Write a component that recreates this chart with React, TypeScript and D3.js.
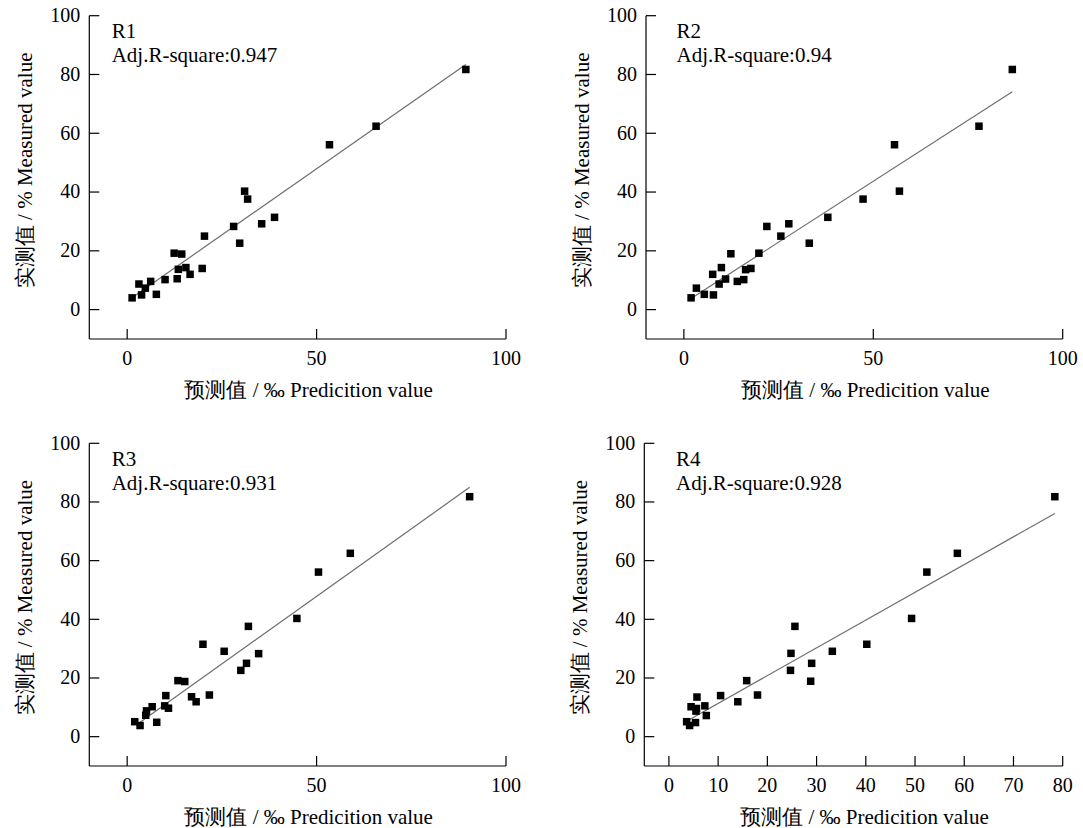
import React from 'react';
import * as d3 from 'd3';

// predicted (x) vs measured (y) for the four models
const pred1 = [1.3, 3.1, 3.8, 4.8, 6.2, 7.7, 10.0, 12.4, 13.2, 13.5, 14.4, 15.5, 16.6, 19.8, 20.4, 28.1, 29.7, 31.0, 31.8, 35.5, 38.9, 53.4, 65.7, 89.4];
const meas1 = [4.0, 8.7, 5.0, 7.3, 9.6, 5.2, 10.2, 19.2, 10.5, 13.7, 18.9, 14.3, 12.0, 14.0, 25.0, 28.3, 22.6, 40.3, 37.6, 29.2, 31.4, 56.1, 62.4, 81.7];

const pred2 = [1.9, 3.3, 5.4, 7.6, 7.8, 9.3, 9.9, 11.0, 12.4, 14.1, 15.8, 16.3, 17.7, 19.8, 21.9, 25.6, 27.7, 33.1, 38.0, 47.3, 55.6, 56.9, 77.9, 86.7];
const meas2 = [4.0, 7.3, 5.2, 12.0, 5.0, 8.7, 14.3, 10.4, 19.0, 9.6, 10.2, 13.6, 14.0, 19.2, 28.3, 25.0, 29.2, 22.6, 31.4, 37.6, 56.1, 40.3, 62.4, 81.7];

const pred3 = [2.0, 3.4, 4.9, 5.1, 6.6, 7.8, 9.9, 10.2, 10.9, 13.4, 15.2, 17.0, 18.2, 20.0, 21.7, 25.6, 30.0, 31.5, 32.0, 34.7, 44.8, 50.5, 58.9, 90.4];
const meas3 = [5.1, 3.8, 7.3, 8.8, 10.2, 4.9, 10.5, 14.0, 9.7, 19.1, 18.8, 13.6, 11.9, 31.5, 14.2, 29.1, 22.6, 25.0, 37.6, 28.3, 40.3, 56.1, 62.5, 81.8];

const pred4 = [3.6, 4.2, 5.4, 4.5, 5.6, 5.5, 5.7, 7.3, 7.6, 10.5, 14.0, 15.8, 18.0, 24.7, 24.8, 25.6, 28.8, 29.0, 33.2, 40.2, 49.3, 52.4, 58.6, 78.4];
const meas4 = [5.1, 3.8, 4.8, 10.2, 9.6, 8.7, 13.5, 10.5, 7.2, 14.0, 11.9, 19.1, 14.2, 22.6, 28.4, 37.6, 18.9, 25.0, 29.1, 31.5, 40.3, 56.1, 62.5, 81.8];

// fitted line end points [x, y]
const fit1 = [[1.0, 3.8], [89.4, 83.4]];
const fit2 = [[1.8, 3.7], [86.7, 74.1]];
const fit3 = [[2.4, 4.0], [90.4, 85.0]];
const fit4 = [[3.5, 5.2], [78.4, 76.1]];

const names = ['R1', 'R2', 'R3', 'R4'];
const adjR2 = ['0.947', '0.94', '0.931', '0.928'];

const yTicks = [0, 20, 40, 60, 80, 100];
const xTicksA = [0, 50, 100];
const xTicksB = [0, 10, 20, 30, 40, 50, 60, 70, 80];

const xLabel = '预测值 / ‰ Predicition value';
const yLabel = '实测值 / % Measured value';

const FONT = "'Liberation Serif', serif";

const panels = [
  { pred: pred1, meas: meas1, fit: fit1, xd: [-10, 100], xt: xTicksA, left: 89.3, right: 506, top: 15.7, bottom: 339, tx: 111.7 },
  { pred: pred2, meas: meas2, fit: fit2, xd: [-10, 100], xt: xTicksA, left: 646, right: 1062.7, top: 15.7, bottom: 339, tx: 676.5 },
  { pred: pred3, meas: meas3, fit: fit3, xd: [-10, 100], xt: xTicksA, left: 89.3, right: 506, top: 443.3, bottom: 766, tx: 111.7 },
  { pred: pred4, meas: meas4, fit: fit4, xd: [-5, 80], xt: xTicksB, left: 644.3, right: 1062.7, top: 443.3, bottom: 766, tx: 676 },
];

const Panel = ({ p, i }) => {
  const x = d3.scaleLinear().domain(p.xd).range([p.left, p.right]);
  const y = d3.scaleLinear().domain([-10, 100]).range([p.bottom, p.top]);
  const line = d3.line<number[]>().x(d => x(d[0])).y(d => y(d[1]));
  const s = 7.5;
  const cy = (p.top + p.bottom) / 2 - 7;
  const cx = p.left - 57;

  return (
    <g>
      {/* y axis */}
      <line x1={p.left} x2={p.left} y1={y(-10)} y2={y(100)} stroke="#000" strokeWidth={1.2} />
      {yTicks.map(t => (
        <g key={'y' + t}>
          <line x1={p.left} x2={p.left + 10} y1={y(t)} y2={y(t)} stroke="#000" strokeWidth={1.2} />
          <text x={p.left - 9} y={y(t)} dy="0.32em" textAnchor="end" fontSize={20}>{t}</text>
        </g>
      ))}
      {/* x axis */}
      <line x1={x(p.xd[0])} x2={x(p.xd[1])} y1={p.bottom} y2={p.bottom} stroke="#000" strokeWidth={1.2} />
      {p.xt.map(t => (
        <g key={'x' + t}>
          <line x1={x(t)} x2={x(t)} y1={p.bottom} y2={p.bottom - 10} stroke="#000" strokeWidth={1.2} />
          <text x={x(t)} y={p.bottom + 12} dy="0.71em" textAnchor="middle" fontSize={20}>{t}</text>
        </g>
      ))}

      {/* fit line */}
      <path d={line(p.fit) || ''} fill="none" stroke="#6e6e6e" strokeWidth={1.2} />

      {/* points */}
      {p.pred.map((v, k) => (
        <rect key={k} x={x(v) - s / 2} y={y(p.meas[k]) - s / 2} width={s} height={s} fill="#000" />
      ))}

      {/* annotation */}
      <text fontSize={21}>
        <tspan x={p.tx} y={p.top + 22.6}>{names[i]}</tspan>
        <tspan x={p.tx} y={p.top + 46.5}>{'Adj.R-square:' + adjR2[i]}</tspan>
      </text>

      {/* axis titles */}
      <text x={(p.left + p.right) / 2 + 11} y={p.bottom + 58} textAnchor="middle" fontSize={21}>{xLabel}</text>
      <text transform={`translate(${cx},${cy}) rotate(-90)`} textAnchor="middle" fontSize={21}>{yLabel}</text>
    </g>
  );
};

const App = () => (
  <div style={{ position: 'absolute', left: 0, top: 0, background: '#fff' }}>
    <svg width={1083} height={828} style={{ fontFamily: FONT, display: 'block' }} fill="#000">
      {panels.map((p, i) => <Panel key={i} p={p} i={i} />)}
    </svg>
  </div>
);

export default App;
